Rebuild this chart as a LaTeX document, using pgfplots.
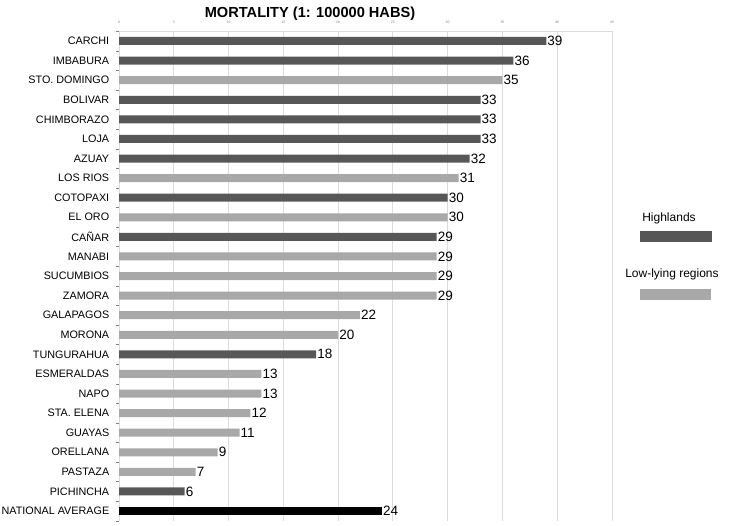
\documentclass[border=0pt]{standalone}
\usepackage{pgfplots}
\pgfplotsset{compat=1.18}
\usepackage{fontspec}
\setmainfont{Liberation Sans}

\definecolor{highland}{HTML}{575757}
\definecolor{lowland}{HTML}{A8A8A8}
\definecolor{gridgray}{HTML}{DCDCDC}

\begin{document}
\begin{tikzpicture}
% page frame: 730 x 525, origin at top left
\path[use as bounding box] (0pt,0pt) rectangle (730pt,-525pt);

\begin{axis}[
    at={(119pt,-31.2pt)}, anchor=north west,
    scale only axis,
    width=493pt, height=489.6pt,
    xmin=0, xmax=45,
    ymin=-0.5, ymax=24.5,
    y dir=reverse,
    /pgf/number format/assume math mode=true,
    xbar, bar shift=0pt, bar width=8pt,
    axis y line*=left, axis x line*=top,
    axis line style={gridgray, -},
    xtick={0,5,...,45},
    xticklabel pos=upper,
    xticklabel style={font=\fontsize{3.5}{4}\selectfont, text=gray},
    xmajorgrids, grid style={gridgray, line width=0.8pt},
    major x tick style={draw=none},
    ytick={0,...,24},
    yticklabels={CARCHI,IMBABURA,STO. DOMINGO,BOLIVAR,CHIMBORAZO,LOJA,AZUAY,
        LOS RIOS,COTOPAXI,EL ORO,CAÑAR,MANABI,SUCUMBIOS,ZAMORA,GALAPAGOS,
        MORONA,TUNGURAHUA,ESMERALDAS,NAPO,STA. ELENA,GUAYAS,ORELLANA,
        PASTAZA,PICHINCHA,NATIONAL AVERAGE},
    yticklabel style={font=\fontsize{10.8}{11}\selectfont, xshift=-2pt},
    major y tick style={draw=none},
    minor ytick={-0.5,0.5,...,24.5},
    minor y tick style={gray, line width=0.4pt},
    minor tick length=3pt,
    tick align=outside,
    point meta=x,
    nodes near coords,
    every node near coord/.append style={anchor=west, inner xsep=1pt,
        font=\fontsize{13.5}{14}\selectfont},
    clip=false,
]
% Highlands
\addplot[draw=none, fill=highland] coordinates {
    (39,0) (36,1) (33,3) (33,4) (33,5) (32,6) (30,8) (29,10) (18,16) (6,23)
};
% Low-lying regions
\addplot[draw=none, fill=lowland] coordinates {
    (35,2) (31,7) (30,9) (29,11) (29,12) (29,13) (22,14) (20,15)
    (13,17) (13,18) (12,19) (11,20) (9,21) (7,22)
};
% National average
\addplot[draw=none, fill=black] coordinates {
    (24,24)
};
\end{axis}

% title
\node[font=\bfseries\fontsize{14.6}{15}\selectfont] at (310pt,-14pt) {MORTALITY (1: 100000 HABS)};

% legend
\node[font=\fontsize{12}{12}\selectfont] at (669pt,-218pt) {Highlands};
\fill[highland] (640pt,-231pt) rectangle (712pt,-242pt);
\node[font=\fontsize{12}{12}\selectfont] at (672pt,-274pt) {Low-lying regions};
\fill[lowland] (640pt,-289pt) rectangle (711pt,-300pt);
\end{tikzpicture}
\end{document}
